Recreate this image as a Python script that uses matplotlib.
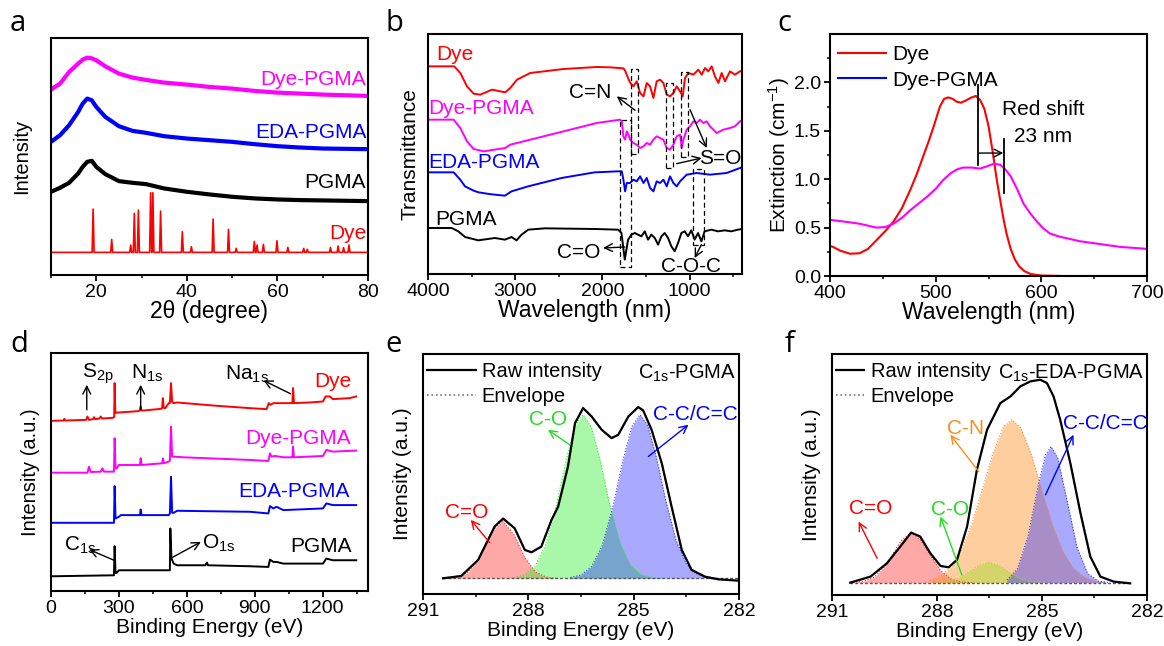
import matplotlib
matplotlib.use('Agg')
import matplotlib.pyplot as plt
from matplotlib.lines import Line2D
from matplotlib.ticker import FixedLocator, MultipleLocator

plt.rcParams['font.family'] = ['Liberation Sans', 'DejaVu Sans']
plt.rcParams['mathtext.default'] = 'regular'
plt.rcParams['font.size'] = 14.5

RED = '#ff0000'
MAG = '#ff00ff'
BLUE = '#0000ff'
BLACK = '#000000'
GREEN = '#22dd22'
ORANGE = '#ff8c1a'
FS = 15          # annotation text size
TICK_FS = 14
XL_TOP = 16.5
XL_BOT = 15
YL_FS = 15

# ---------------- (a) XRD ----------------
xrd_x = [10, 12, 14, 16, 17, 18, 19, 20, 22, 25, 28, 31, 35, 40, 45, 50, 55, 60, 65, 70, 80]
xrd_dye_pgma = [557, 575, 610, 635, 647, 653, 651, 645, 627, 605, 593, 586, 578, 572, 565, 560, 553, 548, 545, 542, 538]
xrd_eda_pgma = [400, 420, 450, 490, 515, 530, 525, 505, 475, 447, 433, 427, 417, 410, 405, 400, 393, 387, 383, 380, 378]
xrd_pgma = [250, 262, 277, 305, 325, 340, 343, 325, 303, 282, 277, 273, 260, 250, 242, 235, 230, 227, 225, 224, 222]
xrd_dye_base = 68
xrd_dye_peak_pos = [19.3, 23.4, 27.6, 28.4, 29.3, 32.0, 32.5, 34.2, 39.0, 41.0, 45.8, 49.2, 50.9,
                    54.9, 55.5, 56.9, 59.9, 62.3, 65.8, 66.6, 71.7, 73.4, 74.6, 75.8]
xrd_dye_peak_val = [198, 107, 90, 185, 195, 247, 247, 192, 130, 85, 168, 137, 80,
                    101, 90, 92, 103, 83, 80, 77, 83, 87, 82, 90]
xrd_range = [10, 80]

# ---------------- (b) FTIR ----------------
ir_dye_x = [4000, 3700, 3630, 3553, 3477, 3400, 3267, 3114, 3057, 2980, 2828, 2446, 2065, 1912, 1760, 1740,
            1702, 1680, 1645, 1607, 1568, 1530, 1492, 1454, 1416, 1378, 1339, 1301, 1263, 1225, 1187, 1149,
            1110, 1080, 1053, 1015, 958, 900, 862, 824, 786, 748, 710, 671, 633, 595, 538, 481, 423, 400]
ir_dye_y = [623, 623, 603, 563, 541, 538, 553, 545, 558, 583, 603, 615, 621, 620, 617, 610,
            585, 573, 563, 578, 543, 533, 573, 563, 528, 578, 583, 573, 538, 533, 543, 563,
            548, 533, 588, 603, 598, 613, 598, 618, 608, 623, 593, 573, 603, 578, 608, 598, 608, 610]
ir_dyepgma_x = [4000, 3706, 3630, 3553, 3477, 3362, 3114, 3057, 2828, 2446, 2065, 1797, 1778, 1760, 1740, 1721,
                1702, 1683, 1645, 1607, 1568, 1530, 1492, 1454, 1416, 1378, 1339, 1301, 1263, 1225, 1187, 1149,
                1110, 1091, 1072, 1034, 996, 958, 920, 881, 843, 805, 767, 729, 690, 652, 614, 538, 481, 423, 400]
ir_dyepgma_y = [463, 463, 438, 398, 375, 368, 378, 388, 403, 428, 453, 463, 458, 413, 403, 428,
                418, 403, 393, 388, 378, 383, 393, 388, 403, 413, 408, 403, 378, 373, 388, 413,
                418, 378, 403, 433, 443, 458, 453, 463, 453, 458, 443, 433, 423, 428, 433, 438, 443, 458, 462]
ir_edapgma_x = [4000, 3706, 3630, 3576, 3477, 3420, 3300, 3200, 3118, 3042, 2851, 2470, 2088, 1820, 1778, 1760,
                1740, 1721, 1683, 1645, 1607, 1568, 1530, 1492, 1454, 1416, 1378, 1339, 1301, 1263, 1225, 1187,
                1149, 1110, 1034, 920, 767, 576, 423, 400]
ir_edapgma_y = [305, 305, 283, 263, 250, 245, 240, 237, 235, 248, 263, 288, 305, 308, 308, 283,
                248, 273, 273, 283, 278, 293, 273, 288, 258, 248, 278, 273, 283, 263, 293, 273,
                263, 278, 298, 303, 298, 303, 318, 320]
ir_pgma_x = [4000, 3729, 3652, 3576, 3423, 3233, 3118, 3042, 2985, 2927, 2851, 2660, 2088, 1820, 1782, 1744,
             1706, 1668, 1630, 1553, 1515, 1477, 1439, 1400, 1362, 1324, 1286, 1248, 1210, 1172, 1133, 1095,
             1057, 1019, 981, 943, 904, 866, 828, 752, 675, 599, 523, 446, 400]
ir_pgma_y = [138, 138, 128, 111, 101, 108, 103, 111, 101, 118, 133, 137, 135, 133, 123, 43,
             103, 118, 123, 113, 128, 103, 118, 108, 88, 113, 123, 108, 83, 68, 93, 123,
             128, 113, 131, 103, 123, 98, 128, 133, 128, 131, 128, 133, 135]
# dashed boxes: (x_left, x_right, y_bottom, y_top)
ir_boxes = [(1797, 1675, 22, 461), (1675, 1588, 361, 615), (1275, 1187, 318, 573),
            (1103, 1015, 351, 605), (965, 832, 88, 315)]

# ---------------- (c) UV-vis ----------------
uv_dye_x = [400, 403, 410, 419, 428, 436, 444, 452, 460, 468, 476, 482, 488, 493, 498, 504, 508, 512, 516, 520,
            524, 528, 533, 538, 542, 546, 550, 554, 558, 561, 564, 567, 571, 575, 579, 584, 590, 600, 620, 700]
uv_dye_y = [0.31, 0.30, 0.26, 0.23, 0.235, 0.28, 0.37, 0.46, 0.56, 0.70, 0.89, 1.05, 1.23, 1.38, 1.54, 1.75,
            1.83, 1.845, 1.83, 1.80, 1.79, 1.81, 1.84, 1.86, 1.82, 1.73, 1.55, 1.28, 0.98, 0.79, 0.60, 0.44,
            0.28, 0.17, 0.10, 0.05, 0.02, 0.005, 0.0, 0.0]
uv_pgma_x = [400, 415, 428, 444, 452, 460, 468, 476, 484, 492, 500, 507, 514, 520, 526, 534, 542, 548, 555,
             561, 566, 571, 577, 583, 590, 596, 602, 608, 616, 624, 636, 649, 662, 675, 688, 700]
uv_pgma_y = [0.58, 0.56, 0.54, 0.50, 0.505, 0.54, 0.60, 0.68, 0.75, 0.82, 0.90, 0.99, 1.06, 1.10, 1.12, 1.12,
             1.11, 1.13, 1.16, 1.15, 1.10, 1.03, 0.90, 0.75, 0.64, 0.56, 0.49, 0.44, 0.41, 0.39, 0.36, 0.34,
             0.32, 0.30, 0.29, 0.28]
uv_peak_dye = 540
uv_peak_pgma = 565

# ---------------- (d) XPS survey ----------------
xps_dye_x = [0, 55, 59, 63, 155, 161, 167, 185, 190, 195, 214, 220, 226, 272, 279, 281, 284, 290, 300, 385, 392,
             396, 400, 410, 486, 491, 494, 498, 505, 520, 525, 530, 535, 542, 557, 733, 879, 952, 962, 970, 982,
             996, 1062, 1066, 1069, 1073, 1143, 1201, 1213, 1231, 1245, 1319, 1348]
xps_dye_y = [509, 510, 515, 510, 512, 522, 512, 514, 520, 514, 516, 522, 516, 518, 520, 622, 532, 534, 534, 538, 540,
             552, 540, 540, 545, 548, 577, 548, 547, 562, 562, 622, 565, 562, 564, 554, 547, 544, 562, 557, 562,
             562, 562, 562, 607, 562, 564, 567, 582, 582, 574, 577, 582]
xps_dyepgma_x = [0, 155, 161, 168, 175, 220, 227, 234, 278, 281, 285, 290, 300, 388, 393, 396, 400, 491, 494, 498,
                 520, 525, 530, 535, 542, 586, 879, 960, 967, 974, 989, 1026, 1062, 1066, 1069, 1073, 1201, 1216,
                 1245, 1348]
xps_dyepgma_y = [354, 354, 354, 372, 356, 357, 367, 357, 357, 457, 367, 367, 377, 377, 377, 397, 377, 382, 397, 382,
                 387, 390, 492, 402, 402, 400, 392, 389, 412, 402, 404, 400, 400, 400, 432, 400, 404, 422,
                 417, 420]
xps_edapgma_x = [0, 278, 281, 285, 300, 308, 388, 393, 396, 400, 520, 525, 530, 535, 542, 557, 879, 960, 967, 982,
                 996, 1026, 1201, 1216, 1245, 1348]
xps_edapgma_y = [204, 204, 314, 217, 222, 227, 227, 227, 244, 227, 227, 232, 342, 234, 234, 240, 237, 232, 254, 247,
                 252, 242, 247, 262, 257, 257]
xps_pgma_x = [0, 278, 281, 285, 290, 300, 520, 525, 527, 532, 542, 557, 681, 686, 689, 693, 879, 960, 967, 982,
              996, 1026, 1201, 1216, 1245, 1348]
xps_pgma_y = [44, 47, 134, 54, 54, 62, 62, 62, 187, 97, 82, 77, 77, 82, 85, 77, 74, 72, 94, 87,
              87, 82, 82, 97, 92, 92]

# ---------------- (e) C1s PGMA ----------------
e_raw_x = [290.43, 289.91, 289.43, 288.96, 288.72, 288.39, 288.10, 287.91, 287.63, 287.34, 287.15, 286.87, 286.67,
           286.44, 286.20, 285.91, 285.63, 285.44, 285.15, 284.87, 284.73, 284.49, 284.20, 283.92, 283.63, 283.35,
           282.97, 282.59, 282.02]
e_raw_y = [47, 54, 102, 202, 226, 197, 132, 125, 142, 222, 262, 382, 512, 557, 532, 492, 467, 477, 532, 560, 550,
           492, 392, 262, 132, 72, 52, 44, 40]
e_base = 47
e_co_x = [290.3, 290.0, 289.7, 289.4, 289.1, 288.75, 288.4, 288.1, 287.8, 287.5, 287.2]
e_co_y = [47, 51, 66, 109, 176, 222, 176, 109, 66, 51, 47]
e_c_o_x = [288.4, 288.1, 287.8, 287.5, 287.2, 286.9, 286.65, 286.44, 286.2, 285.95, 285.7, 285.4, 285.1, 284.8,
           284.5, 284.2]
e_c_o_y = [49, 58, 85, 150, 267, 412, 508, 537, 499, 398, 276, 156, 87, 59, 50, 47]
e_cc_x = [286.8, 286.5, 286.2, 285.9, 285.6, 285.3, 285.05, 284.82, 284.6, 284.35, 284.1, 283.8, 283.5, 283.2,
          282.9, 282.6]
e_cc_y = [49, 57, 82, 144, 258, 403, 502, 537, 505, 408, 286, 163, 91, 60, 50, 47]

# ---------------- (f) C1s EDA-PGMA ----------------
f_raw_x = [290.48, 289.90, 289.43, 289.05, 288.74, 288.48, 288.19, 287.90, 287.67, 287.43, 287.14, 286.86, 286.57,
           286.19, 285.90, 285.62, 285.33, 285.05, 284.86, 284.67, 284.48, 284.19, 283.90, 283.62, 283.33, 282.95,
           282.48]
f_raw_y = [37, 55, 95, 145, 187, 175, 125, 87, 83, 105, 205, 375, 495, 575, 595, 625, 640, 645, 635, 595, 525, 395,
           245, 115, 55, 40, 35]
f_base = 37
f_co_x = [290.4, 290.1, 289.8, 289.5, 289.2, 289.0, 288.74, 288.5, 288.2, 287.9, 287.6, 287.3, 287.0]
f_co_y = [38, 41, 53, 84, 134, 166, 185, 169, 120, 73, 48, 39, 37]
f_c_o_x = [288.0, 287.7, 287.4, 287.1, 286.8, 286.52, 286.2, 285.9, 285.6, 285.3, 285.0]
f_c_o_y = [37, 41, 50, 68, 89, 98, 87, 65, 48, 40, 37]
f_cn_x = [288.2, 287.9, 287.6, 287.3, 287.0, 286.7, 286.4, 286.1, 285.86, 285.6, 285.3, 285.0, 284.7, 284.4,
          284.1, 283.8, 283.5, 283.2]
f_cn_y = [44, 56, 83, 134, 214, 318, 425, 504, 525, 500, 419, 311, 208, 129, 80, 55, 43, 38]
f_cc_x = [286.0, 285.7, 285.4, 285.1, 284.9, 284.74, 284.55, 284.3, 284.0, 283.7, 283.4, 283.1]
f_cc_y = [45, 79, 176, 333, 420, 445, 410, 290, 143, 65, 42, 37]

# ======================================================================
W, H = 1164, 646
fig = plt.figure(figsize=(W / 100, H / 100), dpi=100)


def add_ax(l, t, r, b):
    return fig.add_axes([l / W, 1 - b / H, (r - l) / W, (b - t) / H])


def style(ax, yticks=False):
    for s in ax.spines.values():
        s.set_linewidth(1.5)
    ax.tick_params(which='major', direction='out', length=4.5, width=1.3, labelsize=TICK_FS, pad=2)
    ax.tick_params(which='minor', direction='out', length=2.5, width=1.1)
    if not yticks:
        ax.set_yticks([])


def arrow(ax, tail, head, color='k', lw=1.0):
    ax.annotate('', xy=head, xytext=tail,
                arrowprops=dict(arrowstyle='->', color=color, lw=lw, shrinkA=0, shrinkB=0,
                                mutation_scale=14))


axa = add_ax(51, 38, 368, 275)
axb = add_ax(428, 34, 742, 274)
axc = add_ax(830, 34, 1147, 276)
axd = add_ax(51, 353, 368, 591)
axe = add_ax(423, 354, 739, 594)
axf = add_ax(832, 354, 1147, 595)

# ---- (a)
ax = axa
ax.plot(xrd_x, xrd_dye_pgma, color=MAG, lw=3.0)
ax.plot(xrd_x, xrd_eda_pgma, color=BLUE, lw=3.0)
ax.plot(xrd_x, xrd_pgma, color=BLACK, lw=3.0)
dx, dy = [xrd_range[0]], [xrd_dye_base]
for p, v in zip(xrd_dye_peak_pos, xrd_dye_peak_val):
    dx += [p - 0.22, p, p + 0.22]
    dy += [xrd_dye_base, v, xrd_dye_base]
dx.append(xrd_range[1])
dy.append(xrd_dye_base)
ax.plot(dx, dy, color=RED, lw=1.2)
ax.set_xlim(*xrd_range)
ax.set_ylim(0, 712)
ax.xaxis.set_major_locator(FixedLocator([20, 40, 60, 80]))
ax.xaxis.set_minor_locator(FixedLocator([10, 30, 50, 70]))
style(ax)
ax.set_xlabel('2θ (degree)', labelpad=-1, fontsize=XL_TOP)
ax.set_ylabel('Intensity', labelpad=14, fontsize=14.5)
for txt, y, c in [('Dye-PGMA', 588, MAG), ('EDA-PGMA', 427, BLUE), ('PGMA', 277, BLACK), ('Dye', 125, RED)]:
    ax.text(79.6, y, txt, color=c, ha='right', va='center', fontsize=FS)

# ---- (b)
ax = axb
ax.plot(ir_dye_x, ir_dye_y, color=RED, lw=1.4)
ax.plot(ir_dyepgma_x, ir_dyepgma_y, color=MAG, lw=1.4)
ax.plot(ir_edapgma_x, ir_edapgma_y, color=BLUE, lw=1.4)
ax.plot(ir_pgma_x, ir_pgma_y, color=BLACK, lw=1.4)
for x0, x1, y0, y1 in ir_boxes:
    ax.plot([x0, x1, x1, x0, x0], [y0, y0, y1, y1, y0], color='k', lw=0.9, ls=(0, (4, 2.5)))
ax.set_xlim(4000, 400)
ax.set_ylim(0, 720)
ax.xaxis.set_major_locator(FixedLocator([4000, 3000, 2000, 1000]))
ax.xaxis.set_minor_locator(FixedLocator([3500, 2500, 1500, 500]))
style(ax)
ax.set_xlabel('Wavelength (nm)', labelpad=-1, fontsize=XL_TOP)
ax.set_ylabel('Transmittance', labelpad=6, fontsize=YL_FS)
ax.text(3900, 658, 'Dye', color=RED, ha='left', va='center', fontsize=FS)
ax.text(3992, 498, 'Dye-PGMA', color=MAG, ha='left', va='center', fontsize=FS)
ax.text(3992, 333, 'EDA-PGMA', color=BLUE, ha='left', va='center', fontsize=FS)
ax.text(3920, 163, 'PGMA', color=BLACK, ha='left', va='center', fontsize=FS)
ax.text(2141, 543, 'C=N', ha='center', va='center', fontsize=FS)
arrow(ax, (1626, 491), (1836, 533))
ax.text(2278, 63, 'C=O', ha='center', va='center', fontsize=FS)
arrow(ax, (1744, 81), (1992, 78))
ax.text(645, 345, 'S=O', ha='center', va='center', fontsize=FS)
arrow(ax, (996, 493), (805, 378))
arrow(ax, (1149, 331), (862, 348))
ax.text(981, 23, 'C-O-C', ha='center', va='center', fontsize=FS)
arrow(ax, (866, 88), (943, 48))

# ---- (c)
ax = axc
ax.plot(uv_dye_x, uv_dye_y, color=RED, lw=1.5)
ax.plot(uv_pgma_x, uv_pgma_y, color=MAG, lw=1.5)
ax.plot([uv_peak_dye, uv_peak_dye], [1.15, 1.97], color='k', lw=1.3)
ax.plot([uv_peak_pgma, uv_peak_pgma], [0.86, 1.42], color='k', lw=1.3)
arrow(ax, (uv_peak_dye + 1, 1.27), (uv_peak_pgma - 1, 1.27))
ax.text(562.5, 1.72, 'Red shift', ha='left', va='center', fontsize=FS)
ax.text(573.7, 1.44, '23 nm', ha='left', va='center', fontsize=FS)
ax.set_xlim(400, 700)
ax.set_ylim(0, 2.5)
ax.xaxis.set_major_locator(MultipleLocator(100))
ax.xaxis.set_minor_locator(MultipleLocator(50))
ax.yaxis.set_major_locator(FixedLocator([0, 0.5, 1.0, 1.5, 2.0]))
ax.yaxis.set_minor_locator(FixedLocator([0.25, 0.75, 1.25, 1.75, 2.25]))
style(ax, yticks=True)
ax.set_xlabel('Wavelength (nm)', labelpad=-1, fontsize=XL_TOP)
ax.set_ylabel('Extinction (cm$^{-1}$)', labelpad=1, fontsize=YL_FS)
handles = [Line2D([], [], color=RED, lw=1.5), Line2D([], [], color=BLUE, lw=1.5)]
ax.legend(handles, ['Dye', 'Dye-PGMA'], loc='upper left', frameon=False, fontsize=FS,
          handlelength=2.3, handletextpad=0.3, labelspacing=0.3, borderaxespad=0.3, borderpad=0.25,
          bbox_to_anchor=(-0.012, 1.0))

# ---- (d)
ax = axd
ax.plot(xps_dye_x, xps_dye_y, color=RED, lw=1.4)
ax.plot(xps_dyepgma_x, xps_dyepgma_y, color=MAG, lw=1.4)
ax.plot(xps_edapgma_x, xps_edapgma_y, color=BLUE, lw=1.4)
ax.plot(xps_pgma_x, xps_pgma_y, color=BLACK, lw=1.4)
ax.set_xlim(0, 1400)
ax.set_ylim(0, 712)
ax.xaxis.set_major_locator(MultipleLocator(300))
ax.xaxis.set_minor_locator(MultipleLocator(150))
style(ax)
ax.set_xlabel('Binding Energy (eV)', labelpad=1, fontsize=XL_BOT)
ax.set_ylabel('Intensity (a.u.)', labelpad=8, fontsize=14.5)
ax.text(1326, 627, 'Dye', color=RED, ha='right', va='center', fontsize=FS)
ax.text(1326, 457, 'Dye-PGMA', color=MAG, ha='right', va='center', fontsize=FS)
ax.text(1319, 297, 'EDA-PGMA', color=BLUE, ha='right', va='center', fontsize=FS)
ax.text(1330, 132, 'PGMA', color=BLACK, ha='right', va='center', fontsize=FS)
ax.text(139, 650, 'S$_{2p}$', ha='left', va='center', fontsize=FS)
arrow(ax, (158, 542), (158, 617))
ax.text(352, 650, 'N$_{1s}$', ha='left', va='center', fontsize=FS)
arrow(ax, (396, 542), (396, 617))
ax.text(769, 647, 'Na$_{1s}$', ha='left', va='center', fontsize=FS)
arrow(ax, (1058, 590), (938, 630))
ax.text(59, 137, 'C$_{1s}$', ha='left', va='center', fontsize=FS)
arrow(ax, (278, 92), (168, 124))
ax.text(667, 144, 'O$_{1s}$', ha='left', va='center', fontsize=FS)
arrow(ax, (535, 100), (662, 147))


# ---- (e) & (f)
def xps_panel(ax, raw_x, raw_y, base, comps, title, ymax, hlen):
    for x, y, c in comps:
        ax.fill_between(x, base, y, color=c, alpha=0.42, lw=0)
        ax.plot(x, y, color=c, lw=0.8, ls=':')
    ax.plot([raw_x[0], raw_x[-1]], [base, base], color='#555555', lw=1.0, ls=(0, (2, 1.5)))
    ax.plot(raw_x, raw_y, color='#777777', lw=1.2, ls=':')
    ax.plot(raw_x, raw_y, color='k', lw=1.6)
    ax.set_xlim(291, 282)
    ax.set_ylim(0, ymax)
    ax.xaxis.set_major_locator(FixedLocator([291, 288, 285, 282]))
    ax.xaxis.set_minor_locator(FixedLocator([289.5, 286.5, 283.5]))
    style(ax)
    ax.set_xlabel('Binding Energy (eV)', labelpad=1, fontsize=XL_BOT)
    ax.set_ylabel('Intensity (a.u.)', labelpad=8, fontsize=YL_FS)
    handles = [Line2D([], [], color='k', lw=1.6), Line2D([], [], color='#777777', lw=1.2, ls=':')]
    ax.legend(handles, ['Raw intensity', 'Envelope'], loc='upper left', frameon=False, fontsize=14.5,
              handlelength=hlen, handletextpad=0.3, labelspacing=0.3, borderaxespad=0.2, borderpad=0.2,
              bbox_to_anchor=(-0.012, 1.0))
    ax.text(0.99, 0.965, title, transform=ax.transAxes, ha='right', va='top', fontsize=14.5)


xps_panel(axe, e_raw_x, e_raw_y, e_base,
          [(e_co_x, e_co_y, '#ff3030'), (e_c_o_x, e_c_o_y, '#33ee33'), (e_cc_x, e_cc_y, '#3333ff')],
          'C$_{1s}$-PGMA', 719, 2.4)
ax = axe
ax.text(289.76, 244, 'C=O', color=RED, ha='center', va='center', fontsize=FS)
arrow(ax, (289.1, 154), (289.64, 222), color=RED)
ax.text(287.44, 522, 'C-O', color=GREEN, ha='center', va='center', fontsize=FS)
arrow(ax, (286.82, 447), (287.44, 492), color=GREEN)
ax.text(283.25, 539, 'C-C/C=C', color=BLUE, ha='center', va='center', fontsize=FS)
arrow(ax, (284.58, 412), (283.44, 507), color=BLUE)

xps_panel(axf, f_raw_x, f_raw_y, f_base,
          [(f_co_x, f_co_y, '#ff3030'), (f_cn_x, f_cn_y, ORANGE), (f_c_o_x, f_c_o_y, '#99dd22'),
           (f_cc_x, f_cc_y, '#3333ff')],
          'C$_{1s}$-EDA-PGMA', 722, 1.4)
ax = axf
ax.text(289.9, 260, 'C=O', color=RED, ha='center', va='center', fontsize=FS)
arrow(ax, (289.71, 110), (290.24, 220), color=RED)
ax.text(287.62, 255, 'C-O', color=GREEN, ha='center', va='center', fontsize=FS)
arrow(ax, (287.29, 60), (287.9, 235), color=GREEN)
ax.text(287.19, 500, 'C-N', color=ORANGE, ha='center', va='center', fontsize=FS)
arrow(ax, (286.81, 370), (287.62, 480), color=ORANGE)
ax.text(283.19, 515, 'C-C/C=C', color=BLUE, ha='center', va='center', fontsize=FS)
arrow(ax, (284.9, 300), (284.1, 480), color=BLUE)

# ---- panel letters
for letter, x, y in [('a', 10, 31), ('b', 385, 31), ('c', 777, 31), ('d', 10, 352), ('e', 385, 352),
                     ('f', 785, 352)]:
    fig.text(x / W, 1 - y / H, letter, fontsize=21, family=['Open Sans', 'DejaVu Sans'], va='baseline',
             ha='left')

fig.savefig('out.png', dpi=100)
